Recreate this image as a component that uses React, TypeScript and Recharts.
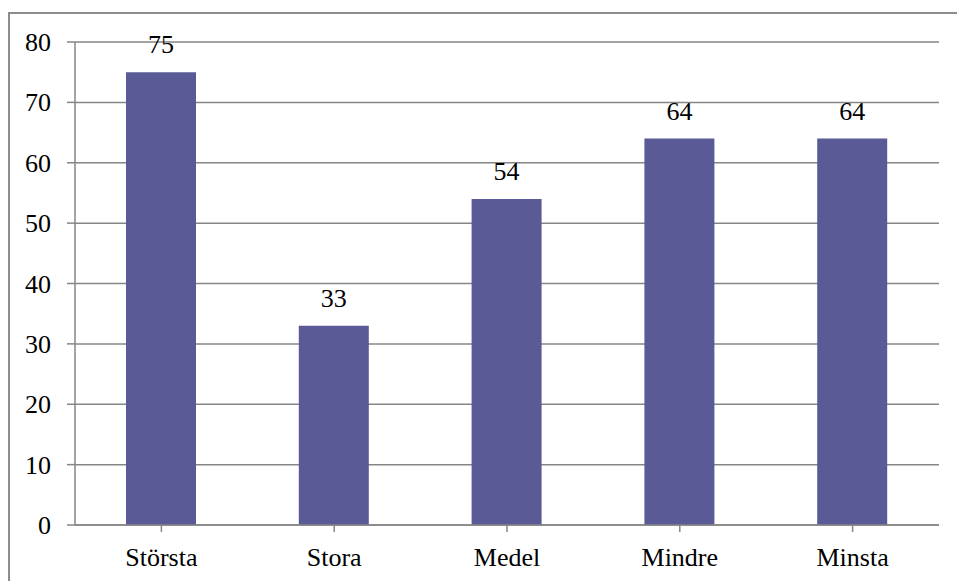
import { BarChart, Bar, XAxis, YAxis, CartesianGrid, LabelList } from 'recharts'

// values
const categories = ['Största', 'Stora', 'Medel', 'Mindre', 'Minsta']
const values = [75, 33, 54, 64, 64]
const yTicks = [0, 10, 20, 30, 40, 50, 60, 70, 80]

const data = categories.map((name, i) => ({ name, value: values[i] }))

const font = "'Liberation Serif', 'DejaVu Serif', serif"
const axisGray = '#868686'
const textStyle = { fontFamily: font, fontSize: 26, fill: '#000' }

const XTick = (props: any) => {
  const { x, payload } = props
  return (
    <text x={x} y={566} textAnchor="middle" fontFamily={font} style={textStyle}>
      {payload.value}
    </text>
  )
}

const YTick = (props: any) => {
  const { x, y, payload } = props
  return (
    <text x={x - 14} y={y + 9} textAnchor="end" fontFamily={font} style={textStyle}>
      {payload.value}
    </text>
  )
}

const BarLabel = (props: any) => {
  const { x, y, width, value } = props
  return (
    <text x={x + width / 2} y={y - 19} textAnchor="middle" fontFamily={font} style={textStyle}>
      {value}
    </text>
  )
}

export default function App() {
  return (
    <div style={{ position: 'absolute', left: 0, top: 0, width: 957, height: 581, background: '#fff', fontFamily: font }}>
      <div
        style={{
          position: 'absolute',
          left: 8,
          top: 12,
          right: 0,
          bottom: 0,
          borderLeft: '2px solid #8c8c8c',
          borderTop: '2px solid #8c8c8c',
        }}
      />
      <BarChart
        width={957}
        height={581}
        data={data}
        margin={{ top: 42, right: 18, bottom: 26, left: 0 }}
        style={{ position: 'absolute', left: 0, top: 0, fontFamily: font }}
      >
        <CartesianGrid vertical={false} stroke={axisGray} strokeWidth={1.5} />
        <XAxis
          dataKey="name"
          stroke={axisGray}
          strokeWidth={1.5}
          tickSize={7}
          tick={<XTick />}
          interval={0}
        />
        <YAxis
          width={75}
          domain={[0, 80]}
          ticks={yTicks}
          stroke={axisGray}
          strokeWidth={1.5}
          tickSize={8}
          tick={<YTick />}
        />
        <Bar dataKey="value" fill="#5a5a96" barSize={70} isAnimationActive={false}>
          <LabelList dataKey="value" content={<BarLabel />} />
        </Bar>
      </BarChart>
    </div>
  )
}
